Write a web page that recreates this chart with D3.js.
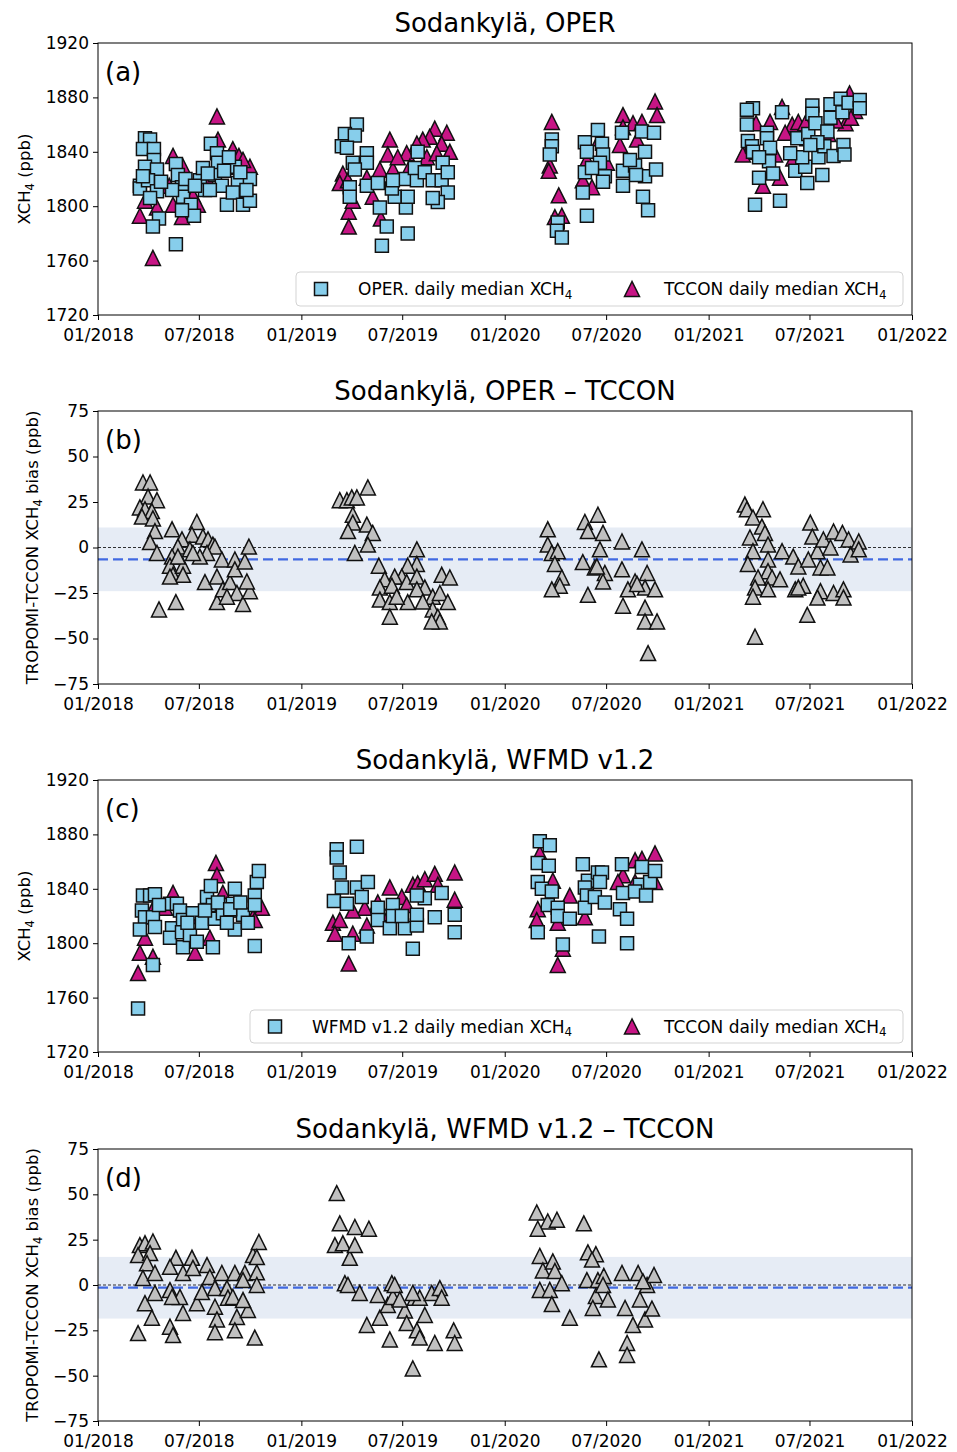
<!DOCTYPE html>
<html>
<head>
<meta charset="utf-8">
<script src="https://cdn.jsdelivr.net/npm/d3@7"></script>
<style>
  html, body { margin: 0; padding: 0; background: #fff; }
  svg { display: block; font-family: "DejaVu Sans", sans-serif; }
</style>
</head>
<body>
<svg id="chart" width="957" height="1452"></svg>
<script>
// Daily medians at Sodankylä, dates given as decimal years.
const operDaily = [
  [2018.231,1850],[2018.256,1849],[2018.221,1842],[2018.275,1842],[2018.275,1834],[2018.231,1829],[2018.290,1827],
  [2018.206,1815],[2018.206,1813],[2018.246,1819],[2018.290,1811],[2018.300,1791],[2018.270,1785],[2018.383,1772],
  [2018.383,1831],[2018.393,1823],[2018.413,1814],[2018.418,1807],[2018.457,1801],[2018.472,1793],[2018.413,1797],
  [2018.364,1812],[2018.501,1819],[2018.526,1812],[2018.555,1846],[2018.585,1839],[2018.590,1832],[2018.575,1823],
  [2018.609,1815],[2018.550,1812],[2018.634,1801],[2018.673,1829],[2018.688,1817],[2018.663,1810],[2018.713,1801],
  [2018.747,1820],[2018.747,1804],[2018.644,1836],[2018.516,1828],[2018.221,1822],[2018.256,1806],[2018.310,1818],
  [2018.430,1820],[2018.477,1815],[2018.540,1824],[2018.620,1826],[2018.700,1825],[2018.730,1812],
  [2019.273,1860],[2019.214,1853],[2019.263,1852],[2019.199,1844],[2019.224,1843],[2019.322,1839],[2019.322,1832],
  [2019.253,1832],[2019.263,1827],[2019.238,1814],[2019.238,1807],[2019.322,1815],[2019.376,1817],[2019.386,1799],
  [2019.420,1785],[2019.396,1771],[2019.523,1780],[2019.514,1799],[2019.459,1807],[2019.445,1813],[2019.523,1807],
  [2019.509,1820],[2019.568,1819],[2019.572,1840],[2019.558,1828],[2019.607,1825],[2019.646,1819],[2019.690,1819],
  [2019.695,1832],[2019.720,1825],[2019.720,1810],[2019.671,1803],[2019.646,1806],[2019.450,1819],
  [2020.231,1849],[2020.231,1844],[2020.221,1838],[2020.260,1788],[2020.256,1782],[2020.280,1777],[2020.403,1793],
  [2020.383,1810],[2020.393,1847],[2020.403,1840],[2020.393,1825],[2020.457,1856],[2020.477,1846],[2020.482,1838],
  [2020.467,1832],[2020.491,1822],[2020.482,1818],[2020.428,1828],[2020.575,1854],[2020.580,1826],[2020.580,1815],
  [2020.673,1855],[2020.688,1840],[2020.639,1830],[2020.688,1822],[2020.742,1827],[2020.732,1854],[2020.678,1807],
  [2020.703,1797],[2020.614,1834],[2020.644,1823],
  [2021.218,1872],[2021.188,1871],[2021.188,1860],[2021.193,1848],[2021.213,1844],[2021.218,1840],[2021.287,1854],
  [2021.287,1850],[2021.302,1843],[2021.297,1833],[2021.248,1836],[2021.317,1824],[2021.248,1821],[2021.228,1801],
  [2021.351,1804],[2021.361,1869],[2021.426,1826],[2021.475,1829],[2021.485,1817],[2021.460,1836],[2021.436,1850],
  [2021.401,1839],[2021.490,1853],[2021.510,1874],[2021.510,1868],[2021.525,1861],[2021.559,1823],[2021.540,1836],
  [2021.584,1855],[2021.599,1865],[2021.569,1844],[2021.614,1837],[2021.663,1845],[2021.668,1838],[2021.599,1875],
  [2021.649,1879],[2021.658,1869],[2021.688,1876],[2021.743,1878],[2021.743,1872],[2021.535,1847],[2021.500,1845]
];

const tcconOperDaily = [
  [2018.585,1866],[2018.590,1849],[2018.663,1842],[2018.693,1837],[2018.747,1829],[2018.713,1834],[2018.369,1837],
  [2018.418,1829],[2018.206,1793],[2018.231,1804],[2018.290,1799],[2018.270,1762],[2018.413,1792],[2018.467,1808],
  [2018.491,1801],[2018.369,1801],[2018.246,1821],[2018.295,1823],[2018.663,1829],[2018.440,1818],[2018.530,1822],
  [2018.620,1830],[2018.700,1812],[2018.350,1815],
  [2019.435,1849],[2019.425,1838],[2019.656,1857],[2019.715,1854],[2019.631,1851],[2019.597,1849],[2019.568,1846],
  [2019.690,1846],[2019.730,1840],[2019.518,1839],[2019.204,1824],[2019.189,1817],[2019.233,1796],[2019.233,1785],
  [2019.391,1791],[2019.351,1807],[2019.386,1827],[2019.450,1827],[2019.474,1836],[2019.253,1804],[2019.322,1821],
  [2019.229,1819],[2019.617,1836],[2019.666,1839],[2019.533,1829],
  [2020.231,1862],[2020.221,1830],[2020.216,1826],[2020.265,1808],[2020.246,1792],[2020.280,1793],[2020.737,1877],
  [2020.747,1867],[2020.580,1867],[2020.629,1861],[2020.673,1862],[2020.580,1858],[2020.467,1850],[2020.403,1834],
  [2020.383,1819],[2020.501,1832],[2020.428,1814],[2020.649,1849],[2020.565,1845],
  [2021.693,1883],[2021.673,1861],[2021.624,1863],[2021.351,1821],[2021.267,1815],[2021.233,1861],[2021.302,1862],
  [2021.178,1840],[2021.168,1838],[2021.327,1838],[2021.411,1860],[2021.441,1862],[2021.475,1861],[2021.485,1850],
  [2021.376,1854],[2021.361,1873],[2021.589,1853],[2021.416,1835],[2021.515,1847],[2021.720,1870],[2021.700,1865]
];

const operBias = [
  [2018.221,35.7],[2018.256,35.7],[2018.246,28],[2018.290,26],[2018.206,22],[2018.231,21],[2018.265,20],[2018.216,17],
  [2018.270,16],[2018.280,9],[2018.256,3],[2018.290,-3],[2018.364,10],[2018.300,-34],[2018.383,-30],[2018.486,14],
  [2018.462,7],[2018.413,4.5],[2018.393,0.5],[2018.364,-5],[2018.354,-10],[2018.369,-15],[2018.418,-10],[2018.418,-15],
  [2018.516,6],[2018.541,4.5],[2018.565,1.6],[2018.575,0.5],[2018.609,-6.6],[2018.536,-3],[2018.501,-5],[2018.526,-19],
  [2018.585,-30],[2018.585,-16],[2018.614,-23],[2018.649,-19],[2018.673,-6.6],[2018.673,-12],[2018.722,-7.7],
  [2018.742,0.5],[2018.683,-25],[2018.713,-31],[2018.747,-24],[2018.732,-18.7],[2018.634,-27],[2018.452,-1],
  [2018.393,-5],[2018.354,-16],[2018.467,-3],
  [2019.327,33],[2019.189,26],[2019.224,26],[2019.248,27.5],[2019.273,27.5],[2019.253,18],[2019.253,13.7],[2019.229,9],
  [2019.322,12.6],[2019.351,8],[2019.327,1.6],[2019.263,-3],[2019.381,-10],[2019.568,-1],[2019.568,-9],[2019.523,-10],
  [2019.494,-16],[2019.459,-16],[2019.410,-17.5],[2019.386,-22],[2019.445,-21],[2019.518,-19],[2019.568,-16],
  [2019.607,-22],[2019.386,-28.6],[2019.435,-30],[2019.435,-38],[2019.523,-30],[2019.568,-23],[2019.646,-27],
  [2019.690,-15],[2019.730,-16.5],[2019.681,-25],[2019.720,-30],[2019.646,-34],[2019.671,-38],[2019.681,-40.6],
  [2019.641,-40.6],[2019.469,-27],[2019.597,-29.7],
  [2020.211,10],[2020.211,1.6],[2020.231,-3],[2020.260,-2],[2020.246,-9],[2020.280,-16.5],[2020.270,-21],[2020.231,-23],
  [2020.393,14],[2020.457,18],[2020.408,9],[2020.482,8],[2020.383,-8],[2020.467,-1],[2020.442,-11],[2020.491,-14],
  [2020.482,-18.7],[2020.408,-26],[2020.575,3.3],[2020.575,-12],[2020.673,-1],[2020.698,-14],[2020.639,-18.7],
  [2020.604,-23],[2020.580,-32],[2020.688,-22],[2020.737,-23],[2020.688,-33],[2020.688,-40.6],[2020.747,-40.6],
  [2020.703,-58],[2020.452,-10.4],[2020.649,-20],
  [2021.178,23.6],[2021.188,21],[2021.267,21],[2021.218,16.5],[2021.262,11.5],[2021.203,5.5],[2021.277,8],[2021.292,1.6],
  [2021.218,-2],[2021.193,-9],[2021.292,-6.6],[2021.361,-2],[2021.292,-13],[2021.243,-16.5],[2021.312,-16.5],
  [2021.351,-17.5],[2021.228,-22],[2021.218,-27],[2021.292,-23],[2021.228,-49],[2021.485,-37],[2021.416,-5],
  [2021.441,-10.4],[2021.426,-23],[2021.465,-21],[2021.500,13.7],[2021.510,6],[2021.535,-2],[2021.490,-6.6],
  [2021.550,-11],[2021.584,-11],[2021.564,4.4],[2021.614,8.8],[2021.599,0],[2021.658,8],[2021.688,4.4],[2021.698,-3.8],
  [2021.738,3.3],[2021.738,-1],[2021.550,-24],[2021.614,-25],[2021.663,-23],[2021.663,-27.5],[2021.535,-27.5],
  [2021.441,-22]
];

const wfmdDaily = [
  [2018.197,1752],[2018.221,1835],[2018.256,1835],[2018.280,1836],[2018.216,1824],[2018.231,1819],[2018.206,1810],
  [2018.270,1819],[2018.280,1812],[2018.270,1784],[2018.354,1829],[2018.388,1829],[2018.403,1824],[2018.364,1811],
  [2018.354,1804],[2018.418,1817],[2018.413,1808],[2018.418,1797],[2018.452,1806],[2018.486,1801],[2018.467,1822],
  [2018.511,1815],[2018.536,1834],[2018.555,1842],[2018.565,1828],[2018.575,1818],[2018.565,1797],[2018.609,1828],
  [2018.614,1822],[2018.673,1840],[2018.663,1829],[2018.683,1824],[2018.673,1810],[2018.713,1821],[2018.737,1815],
  [2018.771,1835],[2018.781,1845],[2018.791,1853],[2018.771,1798],[2018.771,1828],[2018.634,1815],[2018.526,1824],
  [2018.300,1828],[2018.440,1815],[2018.590,1830],[2018.650,1825],[2018.700,1830],
  [2019.174,1869],[2019.174,1863],[2019.273,1871],[2019.189,1852],[2019.199,1841],[2019.160,1831],[2019.224,1829],
  [2019.273,1841],[2019.327,1845],[2019.297,1834],[2019.233,1800],[2019.322,1805],[2019.376,1826],[2019.376,1817],
  [2019.435,1811],[2019.450,1828],[2019.450,1820],[2019.509,1811],[2019.494,1820],[2019.548,1796],[2019.568,1813],
  [2019.568,1821],[2019.607,1833],[2019.568,1835],[2019.690,1837],[2019.656,1819],[2019.754,1821],[2019.754,1808],
  [2020.172,1875],[2020.221,1872],[2020.162,1859],[2020.216,1857],[2020.162,1845],[2020.182,1840],[2020.231,1838],
  [2020.211,1828],[2020.260,1826],[2020.260,1820],[2020.162,1808],[2020.285,1799],[2020.319,1818],[2020.383,1858],
  [2020.408,1846],[2020.393,1841],[2020.403,1835],[2020.393,1826],[2020.457,1852],[2020.477,1852],[2020.467,1845],
  [2020.442,1834],[2020.491,1830],[2020.462,1805],[2020.575,1858],[2020.580,1837],[2020.565,1825],[2020.600,1818],
  [2020.600,1800],[2020.673,1856],[2020.663,1843],[2020.639,1838],[2020.713,1845],[2020.693,1835],[2020.737,1853]
];

const tcconWfmdDaily = [
  [2018.580,1859],[2018.585,1850],[2018.197,1778],[2018.206,1793],[2018.270,1790],[2018.231,1804],[2018.369,1837],
  [2018.280,1828],[2018.477,1793],[2018.550,1804],[2018.614,1837],[2018.806,1826],[2018.762,1819],[2018.771,1817],
  [2018.330,1826],[2018.470,1820],[2018.700,1825],
  [2019.233,1785],[2019.155,1815],[2019.189,1817],[2019.165,1807],[2019.253,1807],[2019.322,1813],[2019.312,1826],
  [2019.253,1824],[2019.435,1841],[2019.494,1834],[2019.435,1822],[2019.548,1843],[2019.572,1844],[2019.607,1847],
  [2019.656,1851],[2019.754,1852],[2019.754,1832],[2019.671,1843],[2019.518,1828],[2019.376,1830],
  [2020.172,1866],[2020.236,1846],[2020.319,1835],[2020.162,1825],[2020.157,1817],[2020.260,1815],[2020.260,1784],
  [2020.285,1796],[2020.393,1819],[2020.580,1850],[2020.639,1861],[2020.673,1862],[2020.737,1866],[2020.639,1845],
  [2020.737,1845],[2020.555,1845]
];

const wfmdBias = [
  [2018.206,22],[2018.231,23],[2018.270,24],[2018.197,16.5],[2018.256,17.6],[2018.241,12],[2018.221,3.9],[2018.280,6.6],
  [2018.197,-26.5],[2018.265,-18],[2018.231,-10],[2018.280,-4.4],[2018.383,15],[2018.462,15],[2018.354,10],
  [2018.418,6.6],[2018.467,9.4],[2018.536,11],[2018.354,-2.8],[2018.403,-6.6],[2018.364,-6.6],[2018.418,-15.4],
  [2018.354,-23],[2018.369,-27.6],[2018.486,-10],[2018.511,-3.9],[2018.550,4.4],[2018.609,6.6],[2018.575,-1.7],
  [2018.575,-12],[2018.585,-19],[2018.575,-26],[2018.634,-1.7],[2018.639,-7],[2018.673,6.6],[2018.663,-6.6],
  [2018.683,-17.6],[2018.673,-25],[2018.722,6.6],[2018.737,-13.8],[2018.713,-8.3],[2018.762,16.5],[2018.781,7],
  [2018.791,23.7],[2018.781,0],[2018.771,-29],[2018.781,15.4],[2018.713,2.7],
  [2019.174,50.7],[2019.189,34],[2019.263,32],[2019.332,31],[2019.165,22],[2019.204,23],[2019.238,15],[2019.263,22],
  [2019.214,1],[2019.229,0],[2019.287,-4.4],[2019.322,-22],[2019.376,-5.5],[2019.386,-18],[2019.425,-11],[2019.445,1],
  [2019.450,-6.6],[2019.435,-30],[2019.459,0],[2019.509,-14],[2019.518,-21],[2019.548,-46],[2019.558,-7],
  [2019.568,-25],[2019.582,-7],[2019.607,-16.5],[2019.641,-4.4],[2019.656,-32],[2019.681,-1.7],[2019.690,-7],
  [2019.749,-25],[2019.754,-32],[2019.548,-4.4],[2019.484,-8],[2019.582,-29],
  [2020.157,40],[2020.211,35],[2020.256,36],[2020.162,31],[2020.172,16],[2020.187,8],[2020.236,13],[2020.246,7.7],
  [2020.172,-2.7],[2020.221,-2.7],[2020.231,-10.5],[2020.280,1],[2020.319,-18],[2020.388,34],[2020.408,18],
  [2020.447,17],[2020.403,2.7],[2020.428,14],[2020.457,2.7],[2020.486,5],[2020.447,-6],[2020.462,-41],
  [2020.432,-12.7],[2020.482,0],[2020.506,-8],[2020.575,6.6],[2020.590,-12.7],[2020.600,-32],[2020.600,-38.6],
  [2020.629,-22],[2020.654,6.6],[2020.663,-8],[2020.688,-19],[2020.698,0],[2020.722,-13],[2020.732,5.5],[2020.678,2]
];

// Bias statistics: mean and one standard deviation
const operBiasMean = -6.5, operBiasStd = 17.5;
const wfmdBiasMean = -1.5, wfmdBiasStd = 17.0;

const xch4Ticks = [1720, 1760, 1800, 1840, 1880, 1920];
const biasTicks = [-75, -50, -25, 0, 25, 50, 75];

// ---------------------------------------------------------------
const svg = d3.select("#chart");
const LEFT = 98, RIGHT = 912;
const C_SQUARE = "#87ceeb", C_TRI = "#c71585", C_GRAY = "#c0c0c0";

function toDate(t) {
  const y = Math.floor(t);
  const a = Date.UTC(y, 0, 1), b = Date.UTC(y + 1, 0, 1);
  return new Date(a + (t - y) * (b - a));
}

const x = d3.scaleUtc()
  .domain([new Date(Date.UTC(2018, 0, 1)), new Date(Date.UTC(2022, 0, 1))])
  .range([LEFT, RIGHT]);
const xTickVals = d3.utcMonth.every(6).range(new Date(Date.UTC(2018, 0, 1)), new Date(Date.UTC(2022, 0, 2)));
const fmtX = d3.utcFormat("%m/%Y");

const triPath = s => `M0,${-s/2}L${-s/2},${s/2}L${s/2},${s/2}Z`;
const sqPath = s => `M${-s/2},${-s/2}h${s}v${s}h${-s}Z`;

function sublabel(sel, pre, sub, post, size) {
  sel.append("tspan").text(pre);
  sel.append("tspan").attr("font-size", size * 0.7).attr("dy", size * 0.22).text(sub);
  if (post) sel.append("tspan").attr("dy", -size * 0.22).text(post);
}

function drawPanel(cfg) {
  const { top, bottom, y, ticks, title, label } = cfg;
  const g = svg.append("g");

  // title
  g.append("text").attr("x", (LEFT + RIGHT) / 2).attr("y", top - 11)
    .attr("text-anchor", "middle").attr("font-size", 26).attr("fill", "#000").text(title);

  if (cfg.band) {
    g.append("rect").attr("x", LEFT).attr("width", RIGHT - LEFT)
      .attr("y", y(cfg.band.mean + cfg.band.std))
      .attr("height", y(cfg.band.mean - cfg.band.std) - y(cfg.band.mean + cfg.band.std))
      .attr("fill", "#e6ecf5");
    g.append("line").attr("x1", LEFT).attr("x2", RIGHT).attr("y1", y(0)).attr("y2", y(0))
      .attr("stroke", "#000").attr("stroke-width", 0.8).attr("stroke-dasharray", "3,2");
    g.append("line").attr("x1", LEFT).attr("x2", RIGHT)
      .attr("y1", y(cfg.band.mean)).attr("y2", y(cfg.band.mean))
      .attr("stroke", "#4169e1").attr("stroke-width", 2.2).attr("stroke-dasharray", "10,5");
  }

  // markers
  const marks = g.append("g");
  (cfg.series || []).forEach(s => {
    marks.append("g").selectAll("path").data(s.data).join("path")
      .attr("transform", d => `translate(${x(toDate(d[0]))},${y(d[1])})`)
      .attr("d", s.shape === "tri" ? triPath(15) : sqPath(13))
      .attr("fill", s.color).attr("stroke", "#111").attr("stroke-width", 1.5)
      .attr("stroke-linejoin", "miter");
  });

  // frame
  g.append("rect").attr("x", LEFT).attr("y", top).attr("width", RIGHT - LEFT).attr("height", bottom - top)
    .attr("fill", "none").attr("stroke", "#000").attr("stroke-width", 1);

  // axes
  const ax = g.append("g").attr("transform", `translate(0,${bottom})`)
    .call(d3.axisBottom(x).tickValues(xTickVals).tickFormat(fmtX).tickSize(5).tickPadding(9));
  const ay = g.append("g").attr("transform", `translate(${LEFT},0)`)
    .call(d3.axisLeft(y).tickValues(ticks).tickSize(5).tickPadding(4)
      .tickFormat(d => d3.format("d")(d).replace("-", "\u2212")));
  [ax, ay].forEach(a => {
    a.select(".domain").remove();
    a.selectAll("text").attr("font-size", 17).attr("fill", "#000").attr("font-family", "DejaVu Sans, sans-serif");
    a.selectAll("line").attr("stroke", "#000").attr("stroke-width", 1);
  });

  // panel letter
  g.append("text").attr("x", LEFT + 7).attr("y", top + 38).attr("font-size", 26).text(label);

  // y label
  const yl = g.append("text")
    .attr("transform", `translate(${cfg.ylabelX},${(top + bottom) / 2}) rotate(-90)`)
    .attr("text-anchor", "middle").attr("font-size", 16.5);
  sublabel(yl, cfg.ylabel[0], "4", cfg.ylabel[1], 16.5);

  // legend
  if (cfg.legend) {
    const L = cfg.legend;
    const lg = g.append("g");
    lg.append("rect").attr("x", L.x0).attr("y", L.y0).attr("width", L.x1 - L.x0).attr("height", L.y1 - L.y0)
      .attr("rx", 4).attr("fill", "#fff").attr("fill-opacity", 0.85).attr("stroke", "#d3d3d3");
    const cy = (L.y0 + L.y1) / 2;
    L.items.forEach(it => {
      lg.append("path").attr("transform", `translate(${it.mx},${cy})`)
        .attr("d", it.shape === "tri" ? triPath(15) : sqPath(13))
        .attr("fill", it.color).attr("stroke", "#111").attr("stroke-width", 1.5);
      const t = lg.append("text").attr("x", it.tx).attr("y", cy + 6).attr("font-size", 17);
      sublabel(t, it.text, "4", null, 17);
    });
  }
}

const yA = d3.scaleLinear().domain([1720, 1920]).range([315, 43]);
const yB = d3.scaleLinear().domain([-75, 75]).range([684, 411]);
const yC = d3.scaleLinear().domain([1720, 1920]).range([1052, 780]);
const yD = d3.scaleLinear().domain([-75, 75]).range([1421, 1149]);

drawPanel({
  top: 43, bottom: 315, y: yA, ticks: xch4Ticks, title: "Sodankylä, OPER", label: "(a)",
  ylabel: ["XCH", " (ppb)"], ylabelX: 30,
  series: [
    { data: tcconOperDaily, shape: "tri", color: C_TRI },
    { data: operDaily, shape: "sq", color: C_SQUARE }
  ],
  legend: { x0: 296, x1: 903, y0: 272, y1: 306, items: [
    { shape: "sq", color: C_SQUARE, mx: 321, tx: 358, text: "OPER. daily median XCH" },
    { shape: "tri", color: C_TRI, mx: 632, tx: 664, text: "TCCON daily median XCH" }
  ]}
});

drawPanel({
  top: 411, bottom: 684, y: yB, ticks: biasTicks, title: "Sodankylä, OPER \u2013 TCCON", label: "(b)",
  ylabel: ["TROPOMI-TCCON XCH", " bias (ppb)"], ylabelX: 38,
  band: { mean: operBiasMean, std: operBiasStd },
  series: [{ data: operBias, shape: "tri", color: C_GRAY }]
});

drawPanel({
  top: 780, bottom: 1052, y: yC, ticks: xch4Ticks, title: "Sodankylä, WFMD v1.2", label: "(c)",
  ylabel: ["XCH", " (ppb)"], ylabelX: 30,
  series: [
    { data: tcconWfmdDaily, shape: "tri", color: C_TRI },
    { data: wfmdDaily, shape: "sq", color: C_SQUARE }
  ],
  legend: { x0: 250, x1: 903, y0: 1010, y1: 1043, items: [
    { shape: "sq", color: C_SQUARE, mx: 275, tx: 312, text: "WFMD v1.2 daily median XCH" },
    { shape: "tri", color: C_TRI, mx: 632, tx: 664, text: "TCCON daily median XCH" }
  ]}
});

drawPanel({
  top: 1149, bottom: 1421, y: yD, ticks: biasTicks, title: "Sodankylä, WFMD v1.2 \u2013 TCCON", label: "(d)",
  ylabel: ["TROPOMI-TCCON XCH", " bias (ppb)"], ylabelX: 38,
  band: { mean: wfmdBiasMean, std: wfmdBiasStd },
  series: [{ data: wfmdBias, shape: "tri", color: C_GRAY }]
});
</script>
</body>
</html>
